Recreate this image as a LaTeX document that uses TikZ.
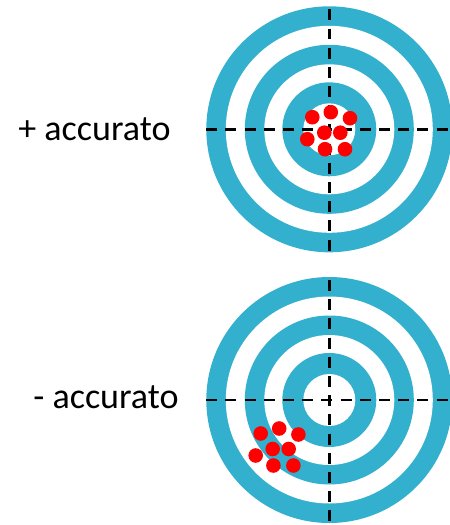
\documentclass[tikz,border=0pt]{standalone}
\usepackage{fontspec}
\setmainfont{Carlito}
\usepackage{tikz}
\usetikzlibrary{positioning}
\definecolor{ring}{HTML}{33B0CE}
\definecolor{hit}{HTML}{FF0000}
\tikzset{
  lbl/.style={font=\fontsize{20.5}{24}\selectfont, inner sep=0pt, anchor=base west},
  cross/.style={line width=1.6pt, dash pattern=on 0.22cm off 0.164cm, draw=black},
  shot/.style={fill=hit}
}
% rings of one target, drawn round a named centre
\newcommand{\target}[1]{%
  \foreach \r/\c in {123/ring,103.5/white,84.5/ring,65/white,47/ring,26/white}
    \fill[\c] (#1) circle (\r);
  \begin{scope}[shift={(#1)}]
    \draw[cross] (-123,0) -- (121,0);
    \draw[cross] (0,-120) -- (0,122);
  \end{scope}}
% group of eight hits round an anchor
\newcommand{\shots}[1]{%
  \begin{scope}[shift={(#1)}]
    \foreach \dx/\dy in {-12/-15.5,6.5/-20.5,25.7/-14.5,0/0,16/0,-17/6.5,0.7/16.5,20.7/16.5}
      \fill[shot] (\dx,\dy) circle (7.3);
  \end{scope}}

\begin{document}
\begin{tikzpicture}[x=0.02cm, y=-0.02cm]
\useasboundingbox (0,0) rectangle (450,525);
\coordinate (top) at (329.3,129.3);
\coordinate (bot) at (329.3,400);
\coordinate (tophits) at (324.3,132.7);
\coordinate (bothits) at (272.7,449);
\target{top}
\target{bot}
\shots{tophits}
\shots{bothits}
\node[lbl] (plus) at (18,140) {+ accurato};
\node[lbl] (minus) at (33,408) {- accurato};
\end{tikzpicture}
\end{document}
